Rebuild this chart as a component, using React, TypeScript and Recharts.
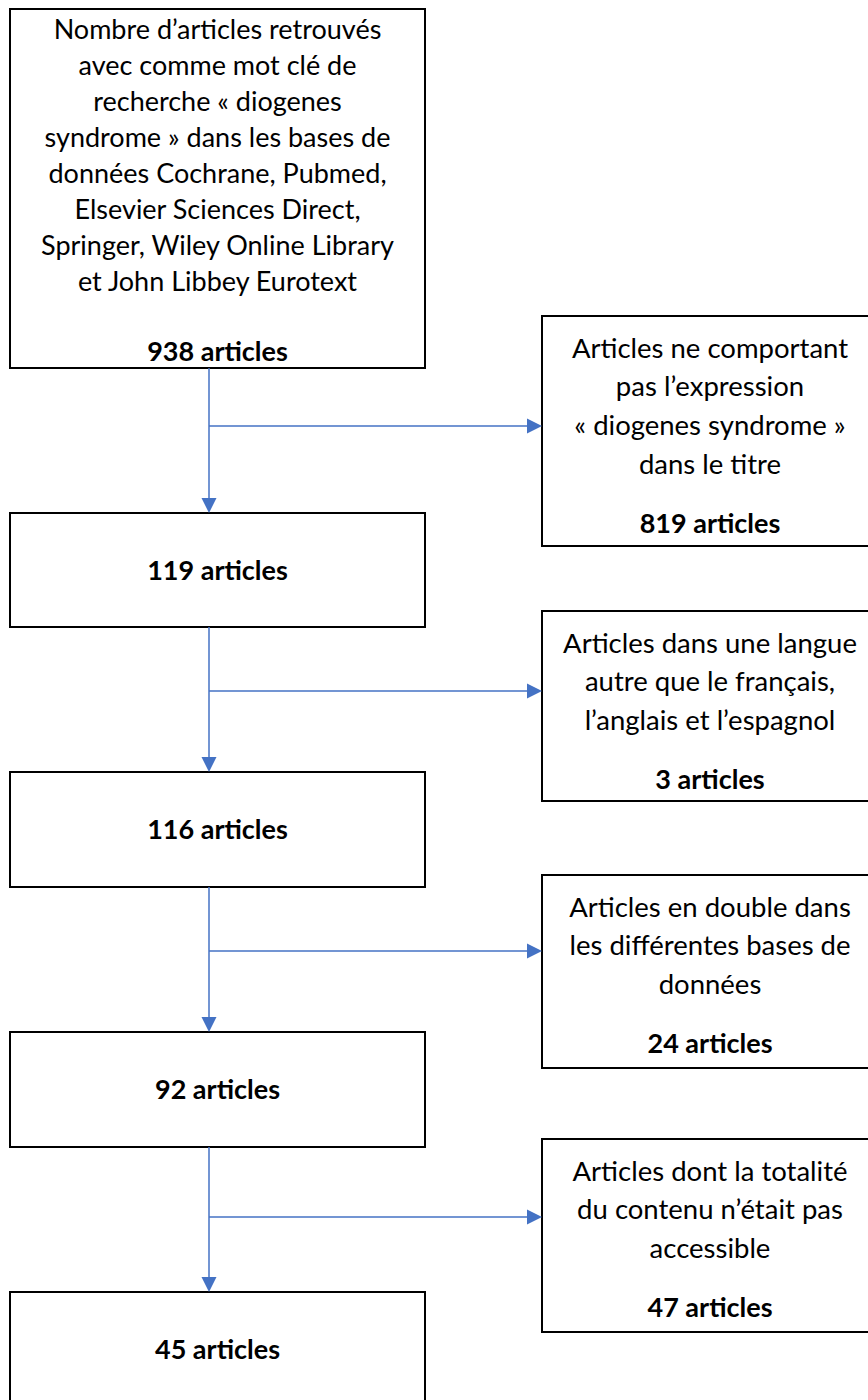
import React from 'react';
import { ScatterChart, Scatter, XAxis, YAxis, ReferenceArea, ReferenceLine } from 'recharts';

const W = 868;
const H = 1400;
const BLUE = '#4472C4';
const FONT = 'Lato, "Open Sans", sans-serif';

// articles kept after each step, and articles removed at each step
const keptCounts = [938, 119, 116, 92, 45];
const excludedCounts = [819, 3, 24, 47];

const searchText = [
  'Nombre d’articles retrouvés',
  'avec comme mot clé de',
  'recherche « diogenes',
  'syndrome » dans les bases de',
  'données Cochrane, Pubmed,',
  'Elsevier Sciences Direct,',
  'Springer, Wiley Online Library',
  'et John Libbey Eurotext',
];

const exclusionReasons = [
  ['Articles ne comportant', 'pas l’expression', '« diogenes syndrome »', 'dans le titre'],
  ['Articles dans une langue', 'autre que le français,', 'l’anglais et l’espagnol'],
  ['Articles en double dans', 'les différentes bases de', 'données'],
  ['Articles dont la totalité', 'du contenu n’était pas', 'accessible'],
];

// layout in page units (y axis is reversed, 0 = top)
const keptX = [10, 425];
const keptTop = [9, 513, 772, 1032, 1292];
const keptBottom = [368, 627, 887, 1147, 1420];
const sideX = [542, 900];
const sideTextX = 710;
const sideTop = [316, 611, 875, 1139];
const sideBottom = [546, 801, 1068, 1332];
const stemX = 209;
const branchY = [426, 691, 951, 1217];

const HEAD = 15;

const arrowHeads = [
  ...branchY.map((_, i) => ({ x: stemX, y: keptTop[i + 1], dir: 'down' })),
  ...branchY.map((y) => ({ x: sideX[0], y, dir: 'right' })),
];

const Arrowhead = (props: any) => {
  const { cx, cy, payload } = props;
  const h = HEAD / 2;
  const pts =
    payload.dir === 'down'
      ? `${cx - h},${cy - HEAD} ${cx + h},${cy - HEAD} ${cx},${cy}`
      : `${cx - HEAD},${cy - h} ${cx - HEAD},${cy + h} ${cx},${cy}`;
  return <polygon points={pts} fill={BLUE} />;
};

const keptLabel = (i: number) => (props: any) => {
  const { x, y, width } = props.viewBox;
  const cx = x + width / 2;
  if (i === 0) {
    return (
      <g fontFamily={FONT} textAnchor="middle" fill="#000">
        {searchText.map((t, k) => (
          <text key={k} x={cx} y={y + 19 + 36 * k} fontSize={27} dominantBaseline="central">
            {t}
          </text>
        ))}
        <text x={cx} y={y + 341} fontSize={27} fontWeight="bold" dominantBaseline="central">
          {keptCounts[0]} articles
        </text>
      </g>
    );
  }
  return (
    <text
      x={cx}
      y={y + 56}
      fontFamily={FONT}
      fontSize={27}
      fontWeight="bold"
      textAnchor="middle"
      dominantBaseline="central"
      fill="#000"
    >
      {keptCounts[i]} articles
    </text>
  );
};

const sideLabel = (i: number) => (props: any) => {
  const { y } = props.viewBox;
  const lines = exclusionReasons[i];
  return (
    <g fontFamily={FONT} textAnchor="middle" fill="#000">
      {lines.map((t, k) => (
        <text key={k} x={sideTextX} y={y + 31 + 38.7 * k} fontSize={27.5} dominantBaseline="central">
          {t}
        </text>
      ))}
      <text
        x={sideTextX}
        y={y + 31 + 38.7 * (lines.length - 1) + 59}
        fontSize={27}
        fontWeight="bold"
        dominantBaseline="central"
      >
        {excludedCounts[i]} articles
      </text>
    </g>
  );
};

export default function App() {
  return (
    <div style={{ position: 'absolute', left: 0, top: 0, width: W, height: H, background: '#fff', overflow: 'hidden' }}>
      <ScatterChart width={W} height={H} margin={{ top: 0, right: 0, bottom: 0, left: 0 }}>
        <XAxis type="number" dataKey="x" domain={[0, W]} hide allowDataOverflow />
        <YAxis type="number" dataKey="y" domain={[0, H]} reversed hide allowDataOverflow width={0} />

        {keptTop.map((top, i) => (
          <ReferenceArea
            key={`k${i}`}
            x1={keptX[0]}
            x2={keptX[1]}
            y1={top}
            y2={keptBottom[i]}
            fill="#fff"
            fillOpacity={1}
            stroke="#000"
            strokeWidth={2}
            ifOverflow="visible"
            label={keptLabel(i)}
          />
        ))}

        {sideTop.map((top, i) => (
          <ReferenceArea
            key={`s${i}`}
            x1={sideX[0]}
            x2={sideX[1]}
            y1={top}
            y2={sideBottom[i]}
            fill="#fff"
            fillOpacity={1}
            stroke="#000"
            strokeWidth={2}
            ifOverflow="visible"
            label={sideLabel(i)}
          />
        ))}

        {branchY.map((by, i) => (
          <ReferenceLine
            key={`v${i}`}
            segment={[
              { x: stemX, y: keptBottom[i] },
              { x: stemX, y: keptTop[i + 1] - HEAD + 1 },
            ]}
            stroke={BLUE}
            strokeWidth={1.5}
            ifOverflow="visible"
          />
        ))}
        {branchY.map((by, i) => (
          <ReferenceLine
            key={`h${i}`}
            segment={[
              { x: stemX, y: by },
              { x: sideX[0] - HEAD + 1, y: by },
            ]}
            stroke={BLUE}
            strokeWidth={1.5}
            ifOverflow="visible"
          />
        ))}

        <Scatter data={arrowHeads} shape={Arrowhead} isAnimationActive={false} />
      </ScatterChart>
    </div>
  );
}
